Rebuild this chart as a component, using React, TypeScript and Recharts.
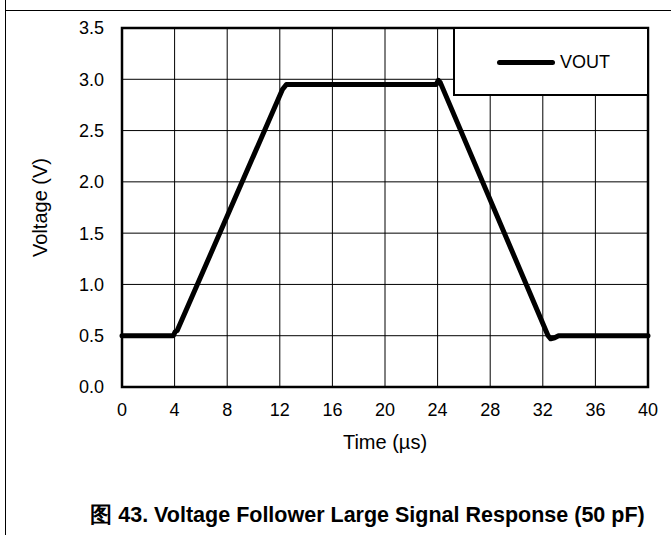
import React from 'react';
import { LineChart, Line, XAxis, YAxis, CartesianGrid, ReferenceArea, Legend, Label } from 'recharts';

const timeUs = [0, 2, 3.9, 4.05, 4.2, 12.2, 12.5, 12.8, 16, 20, 23.9, 24.05, 24.2, 32.4, 32.6, 32.9, 33.2, 36, 40];
const vout = [0.5, 0.5, 0.5, 0.54, 0.55, 2.9, 2.95, 2.95, 2.95, 2.95, 2.95, 2.99, 2.97, 0.5, 0.47, 0.48, 0.5, 0.5, 0.5];
const xTicks = [0, 4, 8, 12, 16, 20, 24, 28, 32, 36, 40];
const yTicks = [0, 0.5, 1.0, 1.5, 2.0, 2.5, 3.0, 3.5];
const seriesName = 'VOUT';
const xTitle = 'Time (µs)';
const yTitle = 'Voltage (V)';
const caption = '图 43. Voltage Follower Large Signal Response (50 pF)';

const data = timeUs.map((t, i) => ({ t, v: vout[i] }));

const FONT = '"Liberation Sans", Arial, sans-serif';

const renderLegend = (props: any) => {
  const item = (props.payload && props.payload[0]) || { value: seriesName };
  return (
    <div style={{ position: 'relative', width: 196, height: 69, boxSizing: 'border-box', border: '2px solid #000', background: '#fff' }}>
      <div style={{ position: 'absolute', left: 42, top: 31, width: 58, height: 5, background: '#000', borderRadius: 3 }} />
      <span style={{ position: 'absolute', left: 105, top: 22, fontFamily: FONT, fontSize: 18, color: '#000', lineHeight: '22px' }}>{item.value}</span>
    </div>
  );
};

export default function App() {
  return (
    <div style={{ position: 'absolute', left: 0, top: 0, width: 671, height: 535, background: '#fff', overflow: 'hidden' }}>
      <div style={{ position: 'absolute', left: 5, top: 0, width: 1, height: 535, background: '#000' }} />
      <div style={{ position: 'absolute', left: 5, top: 10, width: 666, height: 1, background: '#000' }} />
      <LineChart width={671} height={535} data={data} margin={{ top: 28, right: 23, bottom: 100, left: 0 }}>
        <CartesianGrid stroke="#000" strokeWidth={1} />
        <XAxis
          dataKey="t"
          type="number"
          domain={[0, 40]}
          ticks={xTicks}
          interval={0}
          tickLine={false}
          axisLine={false}
          tickSize={0}
          tickMargin={16}
          height={48}
          tick={{ fontFamily: FONT, fontSize: 18, fill: '#000' }}
        >
          <Label
            content={(p: any) => {
              const vb = p.viewBox || {};
              return (
                <text x={vb.x + vb.width / 2} y={449} textAnchor="middle" fontFamily={FONT} fontSize={20} fill="#000">{xTitle}</text>
              );
            }}
          />
        </XAxis>
        <YAxis
          type="number"
          domain={[0, 3.5]}
          ticks={yTicks}
          interval={0}
          width={122}
          tickLine={false}
          axisLine={false}
          tickSize={0}
          tickMargin={18}
          tickFormatter={(v: number) => v.toFixed(1)}
          tick={{ fontFamily: FONT, fontSize: 18, fill: '#000' }}
        >
          <Label
            content={(p: any) => {
              const vb = p.viewBox || {};
              const cy = vb.y + vb.height / 2;
              return (
                <text x={47} y={cy} transform={`rotate(-90 47 ${cy})`} textAnchor="middle" fontFamily={FONT} fontSize={20} fill="#000">{yTitle}</text>
              );
            }}
          />
        </YAxis>
        <ReferenceArea x1={0} x2={40} y1={0} y2={3.5} fill="none" stroke="#000" strokeWidth={2.5} ifOverflow="visible" />
        <Line
          type="linear"
          dataKey="v"
          name={seriesName}
          stroke="#000"
          strokeWidth={5}
          strokeLinejoin="round"
          strokeLinecap="round"
          dot={false}
          activeDot={false}
          isAnimationActive={false}
        />
        <Legend
          layout="vertical"
          align="center"
          verticalAlign="middle"
          content={renderLegend}
          wrapperStyle={{ position: 'absolute', left: 453, top: 27, width: 196, height: 69 }}
        />
      </LineChart>
      <div style={{ position: 'absolute', left: 0, width: 735, top: 502, textAlign: 'center', fontFamily: FONT, fontWeight: 'bold', fontSize: 21.5, color: '#000', whiteSpace: 'nowrap', lineHeight: '26px' }}>{caption}</div>
    </div>
  );
}
